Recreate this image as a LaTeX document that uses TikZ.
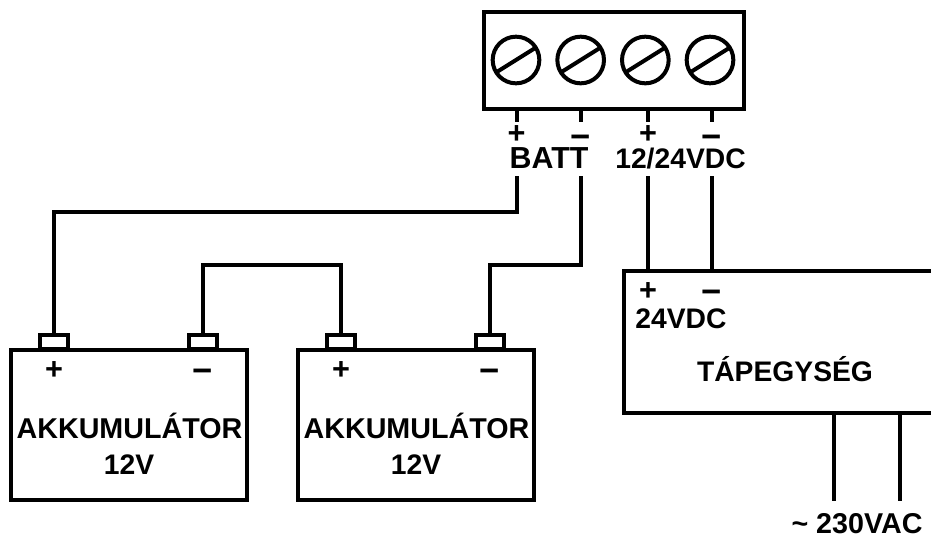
\documentclass[tikz,border=0pt]{standalone}
\usepackage{fontspec}
\setmainfont{Liberation Sans}
\usetikzlibrary{positioning}
\tikzset{
    wire/.style={line width=3pt},
    screw/.style={draw, line width=3pt, circle, minimum size=35pt, inner sep=0pt, outer sep=0pt},
    post/.style={draw, line width=3pt, fill=white, minimum width=21pt, minimum height=10.5pt, inner sep=0pt, outer sep=0pt},
    battery/.style={draw, line width=3pt, minimum width=177pt, minimum height=112.5pt, inner sep=0pt, outer sep=0pt},
    caption/.style={font=\bfseries\fontsize{21.2}{21.2}\selectfont, inner sep=0pt, anchor=base},
    bigcaption/.style={font=\bfseries\fontsize{21.5}{21.5}\selectfont, inner sep=0pt, anchor=base},
    plussign/.style={font=\bfseries\fontsize{23}{23}\selectfont, inner sep=0pt},
    minussign/.style={font=\bfseries\fontsize{26}{26}\selectfont, inner sep=0pt, yshift=-4.5pt}
}

\begin{document}
\begin{tikzpicture}[x=0.75pt, y=-0.75pt]
    \useasboundingbox (0,0) rectangle (931,540);

    % terminal block
    \node [draw, line width=3pt, minimum width=195pt, minimum height=72.75pt, inner sep=0pt, outer sep=0pt] (block) at (613.5,60.5) {};
    \node [screw] (screw1) at (516,60) {};
    \node [screw, right=13.5pt of screw1] (screw2) {};
    \node [screw, right=13.5pt of screw2] (screw3) {};
    \node [screw, right=13.5pt of screw3] (screw4) {};
    \draw [wire] (screw1.212) -- (screw1.32);
    \draw [wire] (screw2.212) -- (screw2.32);
    \draw [wire] (screw3.212) -- (screw3.32);
    \draw [wire] (screw4.212) -- (screw4.32);

    % block pins, the wires go on below the labels
    \coordinate (pin1) at (516.5,110);
    \coordinate (pin2) at (580.5,110);
    \coordinate (pin3) at (648,110);
    \coordinate (pin4) at (712,110);
    \coordinate (wire1) at (516.5,176);
    \coordinate (wire2) at (580.5,176);
    \coordinate (wire3) at (648,176);
    \coordinate (wire4) at (712,176);
    \draw [wire] (pin1) -- ++(0,12);
    \draw [wire] (pin2) -- ++(0,12);
    \draw [wire] (pin3) -- ++(0,12);
    \draw [wire] (pin4) -- ++(0,12);

    \node [plussign] (plus1) at (516.5,134.5) {+};
    \node [minussign] (minus1) at (580.5,135.5) {−};
    \node [plussign] (plus2) at (648,134.5) {+};
    \node [minussign] (minus2) at (712,135.5) {−};
    \node [bigcaption, font=\bfseries\fontsize{22.8}{22.8}\selectfont] (batt) at (549,168) {BATT};
    \node [caption] (vdc) at (680.5,168) {12/24VDC};

    % batteries
    \node [battery] (bata) at (129,425) {};
    \node [battery] (batb) at (416,425) {};
    \node [post] (posa) at (53.5,342) {};
    \node [post] (nega) at (203,342) {};
    \node [post] (posb) at (341,342) {};
    \node [post] (negb) at (490,342) {};
    \node [plussign] (plusa) at (54,370) {+};
    \node [minussign] (minusa) at (203,370) {−};
    \node [plussign] (plusb) at (341,370) {+};
    \node [minussign] (minusb) at (490,370) {−};
    \node [bigcaption] (akka) at (129.5,438) {AKKUMULÁTOR};
    \node [caption] (volta) at (129,474) {12V};
    \node [bigcaption] (akkb) at (416.5,438) {AKKUMULÁTOR};
    \node [caption] (voltb) at (416,474) {12V};

    \draw [wire] (wire1) -- ++(0,36) -| (posa.north);
    \draw [wire] (wire2) -- ++(0,89) -| (negb.north);
    \draw [wire] (nega.north) -- ++(0,-70) -| (posb.north);

    % power supply, open at the right edge
    \coordinate (psutl) at (931,271);
    \coordinate (psubl) at (931,413);
    \draw [wire] (psutl) -- (624,271) -- (624,413) -- (psubl);
    \coordinate (psup) at (648,271);
    \coordinate (psum) at (712,271);
    \draw [wire] (wire3) -- (psup);
    \draw [wire] (wire4) -- (psum);
    \node [plussign] (plusp) at (648,291) {+};
    \node [minussign] (minusp) at (712,291) {−};
    \node [caption] (psuv) at (681,328) {24VDC};
    \node [caption] (psu) at (785,381) {TÁPEGYSÉG};

    % mains
    \coordinate (ac1) at (834,413);
    \coordinate (ac2) at (900,413);
    \draw [wire] (ac1) -- ++(0,88);
    \draw [wire] (ac2) -- ++(0,88);
    \node [bigcaption] (vac) at (857,533) {\textasciitilde{} 230VAC};
\end{tikzpicture}
\end{document}
